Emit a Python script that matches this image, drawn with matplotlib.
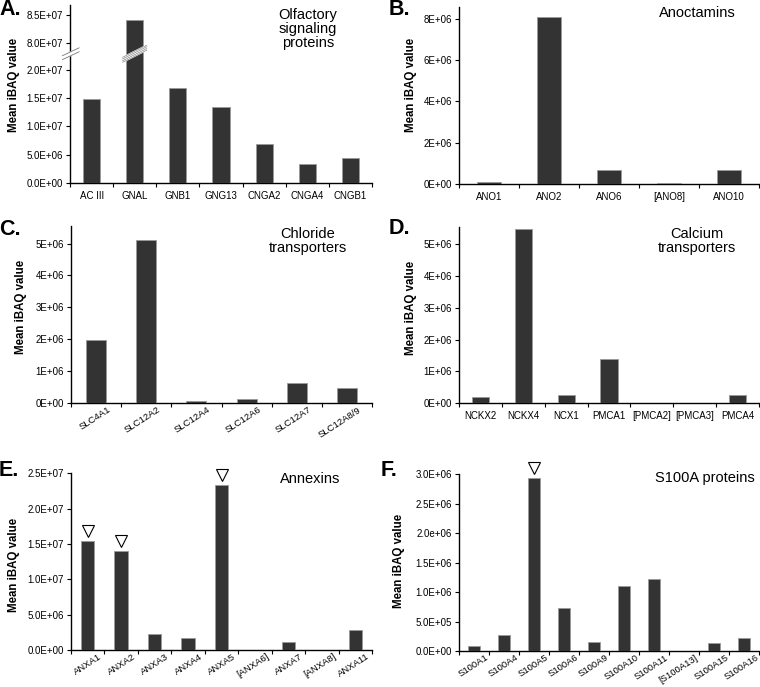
import numpy as np
import matplotlib
matplotlib.use('Agg')
import matplotlib.pyplot as plt
from matplotlib.transforms import blended_transform_factory, offset_copy, ScaledTranslation

plt.rcParams['font.family'] = ['Liberation Sans', 'DejaVu Sans']

# --- data ---
olf_names = ['AC III', 'GNAL', 'GNB1', 'GNG13', 'CNGA2', 'CNGA4', 'CNGB1']
olf_vals = [1.48e7, 8.40e7, 1.68e7, 1.345e7, 6.85e6, 3.4e6, 4.5e6]

ano_names = ['ANO1', 'ANO2', 'ANO6', '[ANO8]', 'ANO10']
ano_vals = [7e4, 8.09e6, 6.5e5, 2e4, 6.5e5]

cl_names = ['SLC4A1', 'SLC12A2', 'SLC12A4', 'SLC12A6', 'SLC12A7', 'SLC12A8/9']
cl_vals = [1.96e6, 5.11e6, 6e4, 1.15e5, 6.3e5, 4.6e5]

ca_names = ['NCKX2', 'NCKX4', 'NCX1', 'PMCA1', '[PMCA2]', '[PMCA3]', 'PMCA4']
ca_vals = [1.9e5, 5.5e6, 2.6e5, 1.39e6, 0, 0, 2.4e5]

anx_names = ['ANXA1', 'ANXA2', 'ANXA3', 'ANXA4', 'ANXA5', '[ANXA6]', 'ANXA7', '[ANXA8]', 'ANXA11']
anx_vals = [1.54e7, 1.395e7, 2.25e6, 1.75e6, 2.33e7, 0, 1.1e6, 0, 2.9e6]
anx_marked = ['ANXA1', 'ANXA2', 'ANXA5']

s100_names = ['S100A1', 'S100A4', 'S100A5', 'S100A6', 'S100A9', 'S100A10', 'S100A11',
              '[S100A13]', 'S100A15', 'S100A16']
s100_vals = [9e4, 2.7e5, 2.94e6, 7.35e5, 1.45e5, 1.1e6, 1.22e6, 0, 1.35e5, 2.25e5]
s100_marked = ['S100A5']

olf_ticks = [0, 5e6, 1e7, 1.5e7, 2e7, 8e7, 8.5e7]
olf_labels = ['0.0E+00', '5.0E+06', '1.0E+07', '1.5E+07', '2.0E+07', '8.0E+07', '8.5E+07']
ano_ticks = [0, 2e6, 4e6, 6e6, 8e6]
ano_labels = ['0E+00', '2E+06', '4E+06', '6E+06', '8E+06']
e6_ticks = [0, 1e6, 2e6, 3e6, 4e6, 5e6]
e6_labels = ['0E+00', '1E+06', '2E+06', '3E+06', '4E+06', '5E+06']
anx_ticks = [0, 5e6, 1e7, 1.5e7, 2e7, 2.5e7]
anx_labels = ['0.0E+00', '5.0E+06', '1.0E+07', '1.5E+07', '2.0E+07', '2.5E+07']
s100_ticks = [0, 5e5, 1e6, 1.5e6, 2e6, 2.5e6, 3e6]
s100_labels = ['0.0E+00', '5.0E+05', '1.0E+06', '1.5E+06', '2.0e+06', '2.5E+06', '3.0E+06']

# axis break for panel A
BRK_LO, BRK_HI, SHIFT = 2.1e7, 7.9e7, 5.52e7


def fwd(y):
    y = np.asarray(y, dtype=float)
    mid = BRK_LO + (y - BRK_LO) * (BRK_HI - SHIFT - BRK_LO) / (BRK_HI - BRK_LO)
    return np.where(y <= BRK_LO, y, np.where(y >= BRK_HI, y - SHIFT, mid))


def inv(m):
    m = np.asarray(m, dtype=float)
    mid = BRK_LO + (m - BRK_LO) * (BRK_HI - BRK_LO) / (BRK_HI - SHIFT - BRK_LO)
    return np.where(m <= BRK_LO, m, np.where(m >= BRK_HI - SHIFT, m + SHIFT, mid))


W, H = 760, 687
fig = plt.figure(figsize=(W / 100, H / 100), dpi=100)
TICK_FS = 7


def rect(x0, y0, x1, y1):
    return [x0 / W, 1 - y1 / H, (x1 - x0) / W, (y1 - y0) / H]


def panel(box, names, vals, ylim, ticks, labels, title, title_xy, letter, letter_xy,
          label_x, label_y, rotate=False, marked=(), scale=None):
    ax = fig.add_axes(rect(*box))
    if scale is not None:
        ax.set_yscale('function', functions=scale)
    x = np.arange(len(names))
    ax.bar(x, vals, width=0.4, color='#333333', edgecolor='#9a9a9a', linewidth=0.6, zorder=3)
    ax.set_xlim(-0.5, len(names) - 0.5)
    ax.set_ylim(*ylim)
    ax.set_yticks(ticks)
    ax.set_yticklabels(labels, fontsize=TICK_FS)
    ax.set_xticks(x)
    ax.set_xticks(np.arange(len(names) + 1) - 0.5, minor=True)
    ax.tick_params(axis='x', which='major', length=0, pad=6 if not rotate else 1.5)
    ax.tick_params(axis='x', which='minor', length=3, width=0.8, direction='out')
    ax.tick_params(axis='y', length=3, width=0.8, pad=2)
    if rotate:
        ax.set_xticklabels(names, fontsize=6.8, rotation=33, ha='right', va='top',
                           rotation_mode='anchor')
        for t in ax.get_xticklabels():
            t.set_transform(t.get_transform() + ScaledTranslation(0.11, 0, fig.dpi_scale_trans))
    else:
        ax.set_xticklabels(names, fontsize=TICK_FS)
    for s in ['top', 'right']:
        ax.spines[s].set_visible(False)
    for s in ['left', 'bottom']:
        ax.spines[s].set_linewidth(1.0)
    ax.set_ylabel('Mean iBAQ value', fontsize=8.3, fontweight='bold')
    ax.yaxis.set_label_coords(label_x, label_y)
    if marked:
        tr = offset_copy(ax.transData, fig=fig, y=10, units='dots')
        for i, n in enumerate(names):
            if n in marked:
                ax.plot(i, vals[i], marker='v', markersize=9, mfc='white', mec='black',
                        mew=0.8, transform=tr, clip_on=False, zorder=5)
    fig.text(title_xy[0] / W, 1 - title_xy[1] / H, title, ha='center', va='center',
             fontsize=10.5, linespacing=1.0)
    fig.text(letter_xy[0] / W, 1 - letter_xy[1] / H, letter, ha='left', va='top',
             fontsize=15.5, fontweight='bold')
    return ax


axA = panel((70, 4.7, 372, 183), olf_names, olf_vals, (0, 8.675e7), olf_ticks, olf_labels,
            'Olfactory\nsignaling\nproteins', (308, 29), 'A.', (-1, -1),
            -0.166, 0.55, scale=(fwd, inv))

# break marks on axis and on the GNAL bar
top_m = float(fwd(8.675e7))
yb = float((fwd(2e7) + fwd(8e7)) / 2) / top_m + 0.015
gi = olf_names.index('GNAL')
axA.plot([-0.025, 0.03], [yb - 0.022, yb + 0.022], transform=axA.transAxes, color='white',
         lw=3.2, clip_on=False, zorder=6, solid_capstyle='butt')
for d in (-0.011, 0.011):
    axA.plot([-0.025, 0.03], [yb - 0.022 + d, yb + 0.022 + d], transform=axA.transAxes,
             color='#777777', lw=0.6, clip_on=False, zorder=7)
bt = blended_transform_factory(axA.transData, axA.transAxes)
axA.plot([gi - 0.28, gi + 0.28], [yb - 0.034, yb + 0.034], transform=bt, color='white',
         lw=4.2, clip_on=False, zorder=6, solid_capstyle='butt')
for d in (-0.014, -0.005, 0.005, 0.014):
    axA.plot([gi - 0.28, gi + 0.28], [yb - 0.034 + d, yb + 0.034 + d], transform=bt,
             color='#888888', lw=0.5, clip_on=False, zorder=7)

panel((459, 6.7, 759, 183.7), ano_names, ano_vals, (0, 8.6e6), ano_ticks, ano_labels,
      'Anoctamins', (697, 13), 'B.', (389, -1), -0.14, 0.56)

panel((71, 226, 372, 403), cl_names, cl_vals, (0, 5.55e6), e6_ticks, e6_labels,
      'Chloride\ntransporters', (308, 241), 'C.', (-1, 219), -0.146, 0.54, rotate=True)

panel((459, 227, 759, 403), ca_names, ca_vals, (0, 5.55e6), e6_ticks, e6_labels,
      'Calcium\ntransporters', (697, 241), 'D.', (389, 218), -0.14, 0.54)

panel((71, 473.3, 372, 650), anx_names, anx_vals, (0, 2.5e7), anx_ticks, anx_labels,
      'Annexins', (310, 479), 'E.', (-1, 460), -0.169, 0.48, rotate=True, marked=anx_marked)

panel((459, 474.3, 759, 651), s100_names, s100_vals, (0, 3e6), s100_ticks, s100_labels,
      'S100A proteins', (705, 478), 'F.', (381, 460), -0.18, 0.51, rotate=True,
      marked=s100_marked)

fig.savefig('out.png', dpi=100)
